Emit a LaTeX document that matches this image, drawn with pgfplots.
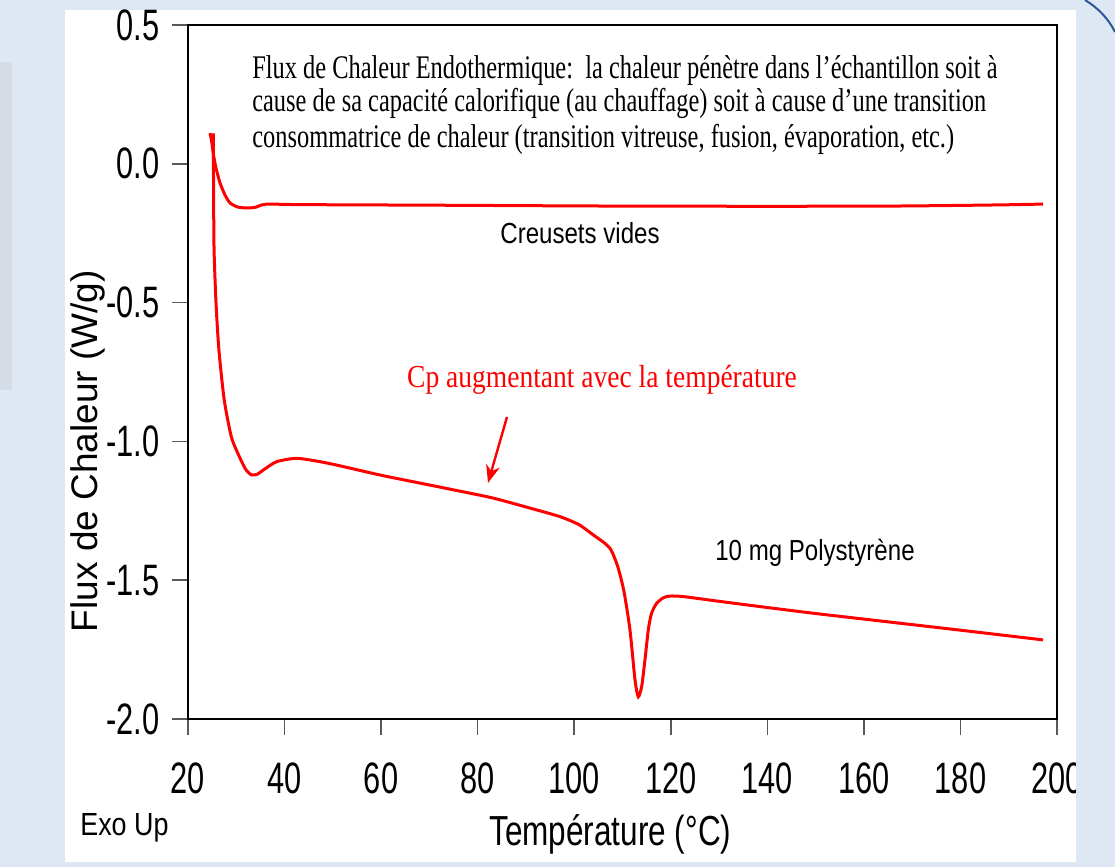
\documentclass[border=0pt]{standalone}
\usepackage{pgfplots}
\pgfplotsset{compat=1.18}
\usepackage{fontspec}
\setmainfont{Liberation Serif}
\newfontfamily\arial{Liberation Sans}
\usetikzlibrary{arrows.meta}
\definecolor{bgblue}{RGB}{221,232,244}
\definecolor{greyrect}{RGB}{214,220,229}
\definecolor{arcblue}{RGB}{47,85,151}
\definecolor{pred}{RGB}{255,0,0}
\begin{document}
\begin{tikzpicture}
\fill[bgblue] (0,0) rectangle (557.5pt,-433.5pt);
\fill[greyrect] (0,-31pt) rectangle (6pt,-195pt);
\fill[white] (32.5pt,-5pt) rectangle (538pt,-431pt);
\begin{axis}[
  at={(94pt,-359.5pt)}, anchor=south west,
  width=434.5pt, height=347pt, scale only axis,
  xmin=20, xmax=200, ymin=-2, ymax=0.5,
  axis line style={black, line width=1pt},
  tick style={gray!70!black, line width=0.8pt},
  tick align=outside, major tick length=8pt,
  xtick pos=bottom, ytick pos=left,
  xtick={20,40,...,200},
  ytick={-2,-1.5,-1,-0.5,0,0.5},
  /pgf/number format/assume math mode=true,
  tick label style={font=\arial\fontsize{22}{25}\selectfont, xscale=0.7},
  y tick label style={xshift=-5.5pt, /pgf/number format/fixed, /pgf/number format/fixed zerofill, /pgf/number format/precision=1},
  x tick label style={yshift=-10.5pt, /pgf/number format/1000 sep={}},
  xlabel={Température (°C)},
  ylabel={Flux de Chaleur (W/g)},
  xlabel style={font=\arial\fontsize{21}{24}\selectfont, xscale=0.75, at={(axis description cs:0.486,-0.1816)}, anchor=base},
  ylabel style={font=\arial\fontsize{18.5}{22}\selectfont, at={(axis description cs:-0.115,0.386)}, anchor=center},
]
% Creusets vides (empty pans)
\addplot[pred, line width=1.5pt, smooth, tension=0.4] coordinates {
(24.56,0.111) (24.9,0.080) (25.3,0.030) (25.80,-0.015) (26.63,-0.069) (27.66,-0.112)
(28.70,-0.141) (30.36,-0.156) (32.22,-0.159) (33.88,-0.157) (35.33,-0.148)
(36.98,-0.145) (43.2,-0.147) (70,-0.149) (105.3,-0.152) (140,-0.153)
(167.5,-0.152) (188.2,-0.148) (197.1,-0.145)
};
% 10 mg Polystyrene
\addplot[pred, line width=1.5pt, smooth, tension=0.4] coordinates {
(25.24,0.110) (25.3,-0.10) (25.4,-0.31) (25.8,-0.50) (26.4,-0.67)
(27.5,-0.85) (29.0,-0.985) (30.77,-1.060) (32.0,-1.102) (33.19,-1.121)
(34.4,-1.118) (35.60,-1.103) (38.37,-1.073) (42.51,-1.061) (47.34,-1.073)
(51.5,-1.088) (59.77,-1.121) (68,-1.150) (76,-1.178) (83.17,-1.204)
(90.8,-1.240) (97.05,-1.271) (101,-1.300) (103.95,-1.337) (106.2,-1.365)
(107.6,-1.390) (109.0,-1.450) (110.3,-1.540) (111.55,-1.679) (112.59,-1.859)
(113.27,-1.920) (114.0,-1.880) (114.7,-1.780) (115.34,-1.679) (116.0,-1.620)
(117.08,-1.583) (118.5,-1.563) (119.84,-1.557) (122.59,-1.559) (130,-1.576)
(138.48,-1.595) (150,-1.620) (165,-1.650) (180,-1.680) (197.1,-1.715)
};
\end{axis}
% annotations
\node[anchor=base west, font=\fontsize{16.5}{18}\selectfont, xscale=0.74, inner sep=0pt] at (126pt,-39pt) {Flux de Chaleur Endothermique:\ \ la chaleur pénètre dans l’échantillon soit à};
\node[anchor=base west, font=\fontsize{16.5}{18}\selectfont, xscale=0.74, inner sep=0pt] at (126pt,-56pt) {cause de sa capacité calorifique (au chauffage) soit à cause d’une transition};
\node[anchor=base west, font=\fontsize{16.5}{18}\selectfont, xscale=0.74, inner sep=0pt] at (126pt,-73.5pt) {consommatrice de chaleur (transition vitreuse, fusion, évaporation, etc.)};
\node[anchor=base, font=\arial\fontsize{14.5}{16}\selectfont, xscale=0.83, inner sep=0pt] at (290pt,-121.5pt) {Creusets vides};
\node[anchor=base, font=\fontsize{16}{18}\selectfont, xscale=0.86, inner sep=0pt, text=pred] at (301pt,-193.5pt) {Cp augmentant avec la température};
\draw[pred, line width=1.2pt, -{Stealth[length=9pt,width=7pt]}] (253.5pt,-208.5pt) -- (244pt,-241.5pt);
\node[anchor=base, font=\arial\fontsize{14.5}{16}\selectfont, xscale=0.83, inner sep=0pt] at (407.5pt,-280pt) {10 mg Polystyrène};
\node[anchor=base west, font=\arial\fontsize{16}{18}\selectfont, xscale=0.84, inner sep=0pt] at (40pt,-417.5pt) {Exo Up};
% right strip covering
\fill[bgblue] (538pt,0) rectangle (557.5pt,-433.5pt);
\draw[arcblue, line width=1pt] (542.5pt,0pt) .. controls (549pt,-4pt) and (554pt,-9pt) .. (557.5pt,-16pt);
\pgfresetboundingbox
\useasboundingbox (0,0) rectangle (557.5pt,-433.5pt);
\end{tikzpicture}
\end{document}
